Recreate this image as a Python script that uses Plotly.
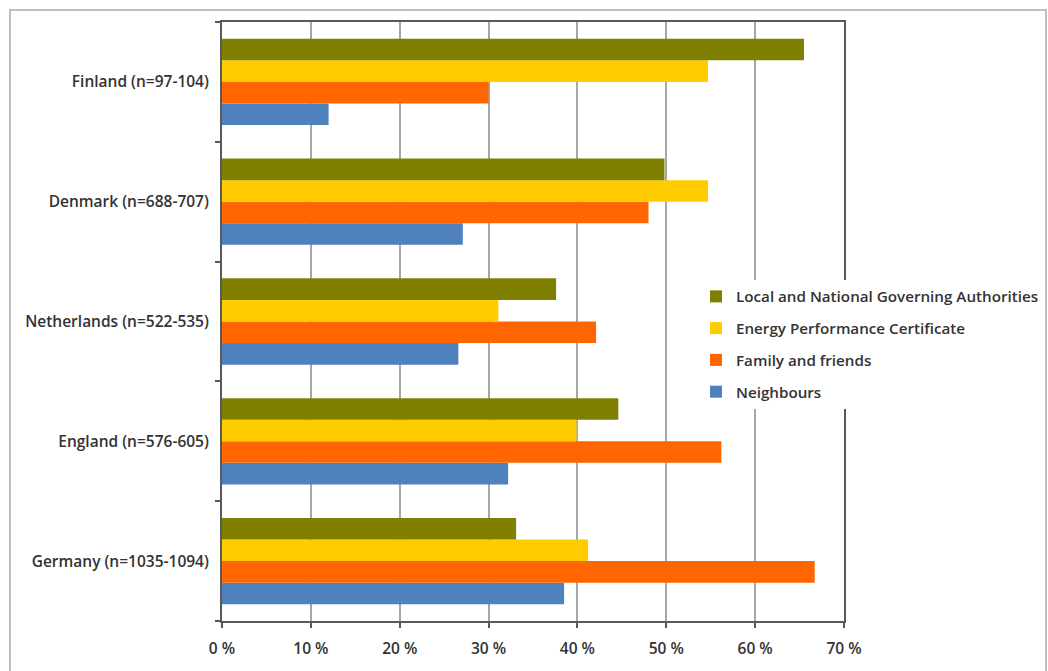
import plotly.graph_objects as go

countries = ["Germany (n=1035-1094)", "England (n=576-605)", "Netherlands (n=522-535)",
             "Denmark (n=688-707)", "Finland (n=97-104)"]
series_names = ["Neighbours", "Family and friends", "Energy Performance Certificate",
                "Local and National Governing Authorities"]
neighbours = [38.5, 32.2, 26.6, 27.1, 12.0]
family = [66.7, 56.2, 42.1, 48.0, 30.0]
epc = [41.2, 39.9, 31.1, 54.7, 54.7]
local_auth = [33.1, 44.6, 37.6, 49.8, 65.5]
colors = ["#4F81BD", "#FF6600", "#FFCC00", "#808000"]
legend_ranks = [4, 3, 2, 1]
x_ticks = [0, 10, 20, 30, 40, 50, 60, 70]
x_ticktext = [f"{v} %" for v in x_ticks]

values = [neighbours, family, epc, local_auth]

FONT = "Open Sans"
FS = 15.5

fig = go.Figure()
for i, (name, vals, col, rk) in enumerate(zip(series_names, values, colors, legend_ranks)):
    fig.add_trace(go.Bar(
        y=countries, x=vals, name=name, orientation="h",
        marker=dict(color=col, line=dict(width=0)),
        legendgroup=f"g{i}", legendrank=rk,
    ))

L, T = 222, 22
R, B = 844, 621
W, H = 1048, 671
pw, ph = R - L, B - T

def px_x(p):
    return (p - L) / pw

def px_y(p):
    return (B - p) / ph

fig.update_layout(
    width=W, height=H,
    margin=dict(l=L, r=W - R, t=T, b=H - B, pad=0, autoexpand=False),
    paper_bgcolor="white", plot_bgcolor="white",
    barmode="group", bargap=0.28, bargroupgap=0,
    font=dict(family=FONT, size=FS, color="#333333", weight=600),
    showlegend=True,
    legend=dict(
        x=px_x(696), y=px_y(280), xanchor="left", yanchor="top",
        bgcolor="white", borderwidth=0,
        traceorder="grouped", tracegroupgap=9,
        font=dict(family=FONT, size=15.2, color="#333333", weight=600),
        itemclick=False,
    ),
    xaxis=dict(
        range=[0, 70], tickvals=x_ticks, ticktext=x_ticktext,
        showgrid=True, gridcolor="#A6A6A6", gridwidth=2,
        showline=True, linecolor="#595959", linewidth=2, mirror=True,
        ticks="outside", ticklen=5, tickcolor="#595959", tickwidth=2,
        ticklabelstandoff=7, zeroline=False, fixedrange=True,
    ),
    yaxis=dict(
        type="category", categoryorder="array", categoryarray=countries,
        showgrid=False,
        showline=True, linecolor="#595959", linewidth=2, mirror=True,
        ticks="outside", ticklen=5, tickcolor="#595959", tickwidth=2,
        tickson="boundaries", ticklabelstandoff=8, fixedrange=True,
    ),
    shapes=[dict(
        type="rect", xref="paper", yref="paper",
        x0=px_x(10), x1=px_x(1046), y0=px_y(700), y1=px_y(10),
        line=dict(color="#BFBFBF", width=2), fillcolor="rgba(0,0,0,0)",
        layer="below",
    )],
)

fig.write_html("out.html")
